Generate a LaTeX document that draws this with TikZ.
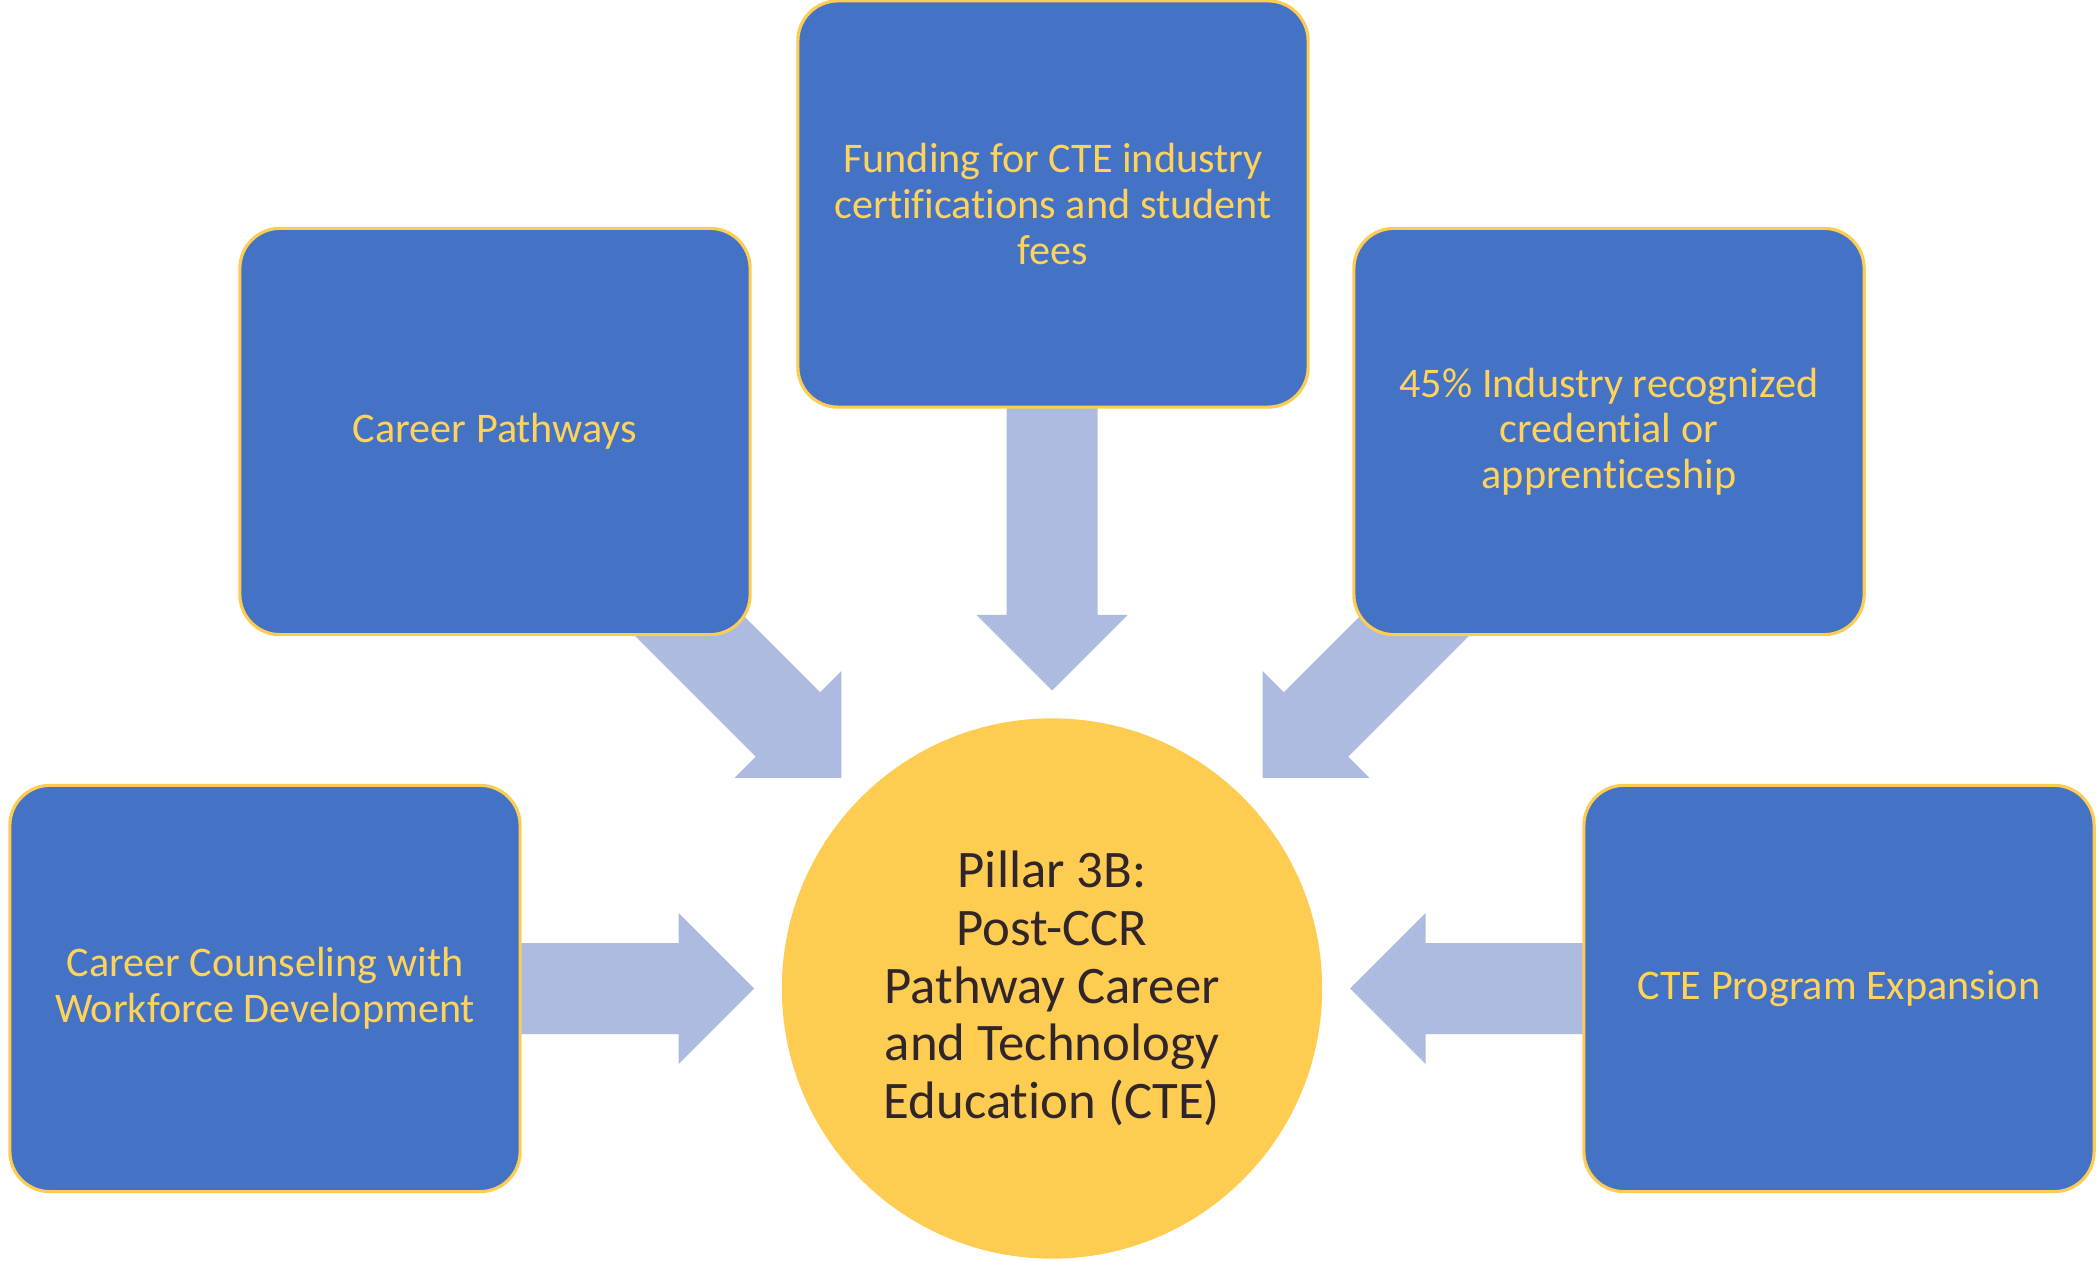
\documentclass[tikz,border=0pt]{standalone}
\usepackage{fontspec}
\setmainfont[Ligatures=NoCommon]{Carlito}
\usetikzlibrary{calc}
\definecolor{boxblue}{HTML}{4472C4}
\definecolor{gold}{HTML}{FFCC52}
\definecolor{goldtext}{HTML}{FFD25A}
\definecolor{flowblue}{HTML}{ADBBE0}
\definecolor{darktext}{HTML}{30262A}
\tikzset{
	pillarbox/.style={draw=gold, line width=0.9pt, fill=boxblue, rounded corners=0.4cm,
		minimum width=5.1cm, minimum height=4.06cm, align=center, text=goldtext,
		font=\fontsize{12}{13}\selectfont},
	hubcircle/.style={circle, fill=gold, minimum size=5.4cm, inner sep=0pt, align=center,
		text=darktext, font=\fontsize{15}{16.4}\selectfont},
	flowarrow/.pic={
		\fill[flowblue] (-284,-45.5) -- (-75.5,-45.5) -- (-75.5,-75.5) -- (0,0)
			-- (-75.5,75.5) -- (-75.5,45.5) -- (-284,45.5) -- cycle;
	}
}
\begin{document}
\begin{tikzpicture}[x=0.01cm,y=0.01cm]
		\useasboundingbox (0,0) rectangle (2100,1260);
		\coordinate (H) at (1052,271.5);
		\node[hubcircle] (hub) at (H) {Pillar 3B:\\Post-CCR\\Pathway Career\\and Technology\\Education (CTE)};
		% block arrows pointing into the hub
		\foreach \a in {0,45,90,135,180}
			\pic[rotate=\a+180] at ($(H)+(\a:298)$) {flowarrow};
		\node[pillarbox] (funding) at (1053,1056) {Funding for CTE industry\\certifications and student\\fees};
		\node[pillarbox] (pathways) at (495,828.5) {Career Pathways};
		\node[pillarbox] (credential) at (1609,828.5) {45\% Industry recognized\\credential or\\apprenticeship};
		\node[pillarbox] (counseling) at (265,271.5) {Career Counseling with\\Workforce Development};
		\node[pillarbox] (expansion) at (1839,271.5) {CTE Program Expansion};
		\end{tikzpicture}
\end{document}
